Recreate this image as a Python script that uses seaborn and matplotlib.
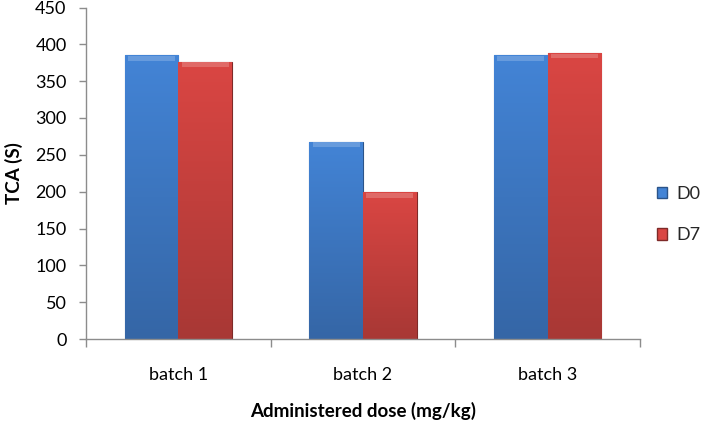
import numpy as np
import pandas as pd
import matplotlib
matplotlib.use("Agg")
import matplotlib.pyplot as plt
import seaborn as sns
from matplotlib.colors import LinearSegmentedColormap
from matplotlib.patches import Patch

categories = ["batch 1", "batch 2", "batch 3"]
series_names = ["D0", "D7"]
d0_values = [385, 268, 385]
d7_values = [376, 199, 388]
y_ticks = [0, 50, 100, 150, 200, 250, 300, 350, 400, 450]

df = pd.DataFrame({
    "batch": categories * 2,
    "series": [series_names[0]] * 3 + [series_names[1]] * 3,
    "value": d0_values + d7_values,
})

sns.set_theme(style="white")
plt.rcParams["font.family"] = ["Lato", "DejaVu Sans"]

fig = plt.figure(figsize=(7.06, 4.22), dpi=100)
ax = fig.add_axes([86 / 706, 1 - 339 / 422, (640 - 86) / 706, (339 - 7.5) / 422])

top_cols = {"D0": "#4384D6", "D7": "#DA4643"}
bot_cols = {"D0": "#3566A6", "D7": "#A83835"}
edge_cols = {"D0": "#2B5489", "D7": "#7E2A28"}

sns.barplot(data=df, x="batch", y="value", hue="series", hue_order=series_names,
            palette=[top_cols[s] for s in series_names], width=0.58, gap=0,
            saturation=1, ax=ax, legend=False)

# gradient fill per bar
for i, container in enumerate(ax.containers):
    s = series_names[i]
    cmap = LinearSegmentedColormap.from_list(s, [bot_cols[s], top_cols[s]])
    for patch in container:
        x0, y0 = patch.get_x(), patch.get_y()
        w, h = patch.get_width(), patch.get_height()
        patch.set_edgecolor(edge_cols[s])
        patch.set_linewidth(0.8)
        grad = np.linspace(0, 1, 256).reshape(-1, 1)
        im = ax.imshow(grad, extent=[x0, x0 + w, y0, y0 + h], origin="lower",
                       cmap=cmap, aspect="auto", zorder=patch.get_zorder() + 0.1)
        im.set_clip_path(patch)
        ax.fill_between([x0 + w * 0.06, x0 + w * 0.94], y0 + h - 7, y0 + h - 0.5,
                        color="white", alpha=0.2, lw=0, zorder=patch.get_zorder() + 0.2)
ax.set_xlim(-0.5, 2.5)
ax.set_ylim(0, 450)

for sp in ["top", "right"]:
    ax.spines[sp].set_visible(False)
for sp in ["left", "bottom"]:
    ax.spines[sp].set_color("#8C8C8C")
    ax.spines[sp].set_linewidth(1.0)

ax.set_yticks(y_ticks)
ax.set_yticklabels([str(t) for t in y_ticks])
ax.tick_params(axis="y", which="major", direction="out", length=5, width=1,
               color="#8C8C8C", pad=9, labelsize=13, labelcolor="black", left=True)
ax.set_xticks([0, 1, 2])
ax.set_xticklabels(categories)
ax.set_xticks([-0.5, 0.5, 1.5, 2.5], minor=True)
ax.tick_params(axis="x", which="major", length=0, pad=20, labelsize=13, labelcolor="black")
ax.tick_params(axis="x", which="minor", direction="out", length=6, width=1,
               color="#8C8C8C", bottom=True)

ax.set_ylabel("TCA (S)", fontsize=13.5, fontweight="bold", labelpad=9, color="black")
ax.set_xlabel("Administered dose (mg/kg)", fontsize=13.5, fontweight="bold", labelpad=14,
              color="black")
ax.grid(False)

handles = [Patch(facecolor=top_cols[s], edgecolor=edge_cols[s]) for s in series_names]
leg = ax.legend(handles, series_names, loc="center left", bbox_to_anchor=(1.03, 0.375),
                frameon=False, fontsize=13, handlelength=0.6, handleheight=0.6,
                handletextpad=0.5, labelspacing=1.4, borderpad=0, borderaxespad=0)

fig.savefig("out.png", dpi=100)
